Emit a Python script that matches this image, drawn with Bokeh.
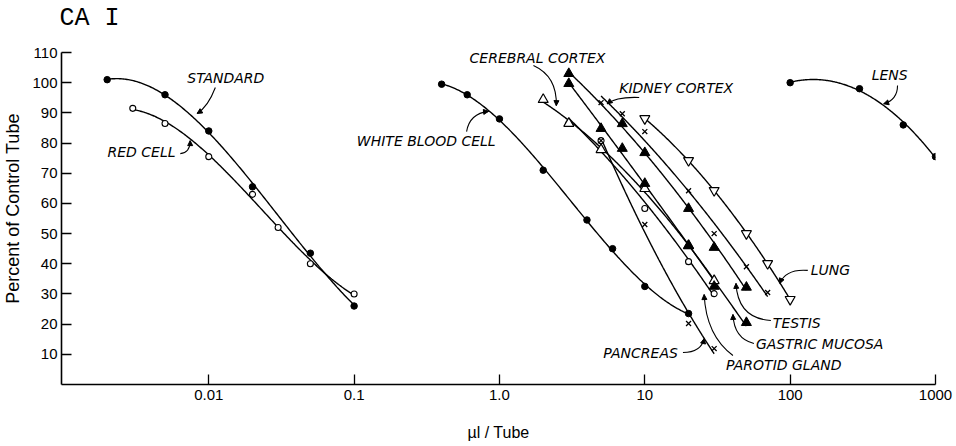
import numpy as np
from bokeh.plotting import figure
from bokeh.models import (Range1d, FixedTicker, CustomJSTickFormatter, ColumnDataSource,
                          Arrow, NormalHead)
from bokeh.core.properties import value
from bokeh.embed import file_html
from bokeh.resources import INLINE

# ---------------- data ----------------
std_x = [0.002, 0.005, 0.01, 0.02, 0.05, 0.1]
std_y = [101, 96, 84, 65.5, 43.5, 26]
red_x = [0.003, 0.005, 0.01, 0.02, 0.03, 0.05, 0.1]
red_y = [91.5, 86.5, 75.5, 63, 52, 40, 30]
wbc_x = [0.4, 0.6, 1, 2, 4, 6, 10, 20]
wbc_y = [99.5, 96, 88, 71, 54.5, 45, 32.5, 23.5]
cer_x = [2, 3, 5, 10, 20, 30]
cer_y = [94.4, 86.5, 77.8, 64.9, 46, 34.4]
par_x = [3, 5, 10, 20, 30]
par_y = [86.5, 80.8, 58.3, 40.7, 30.1]
pan_x = [5, 10, 20, 30]
pan_y = [80.8, 53, 20.2, 11.9]
kid_x = [5, 7, 10, 20, 30, 50, 70]
kid_y = [93.4, 89.7, 83.8, 64.2, 50, 39, 30.5]
tes_x = [3, 7, 10, 20, 30, 50]
tes_y = [103, 86.4, 76.8, 58.3, 45.4, 32.2]
gas_x = [3, 5, 7, 10, 20, 30, 50]
gas_y = [99.7, 84.8, 78.2, 66.6, 46, 32.5, 20.5]
lung_x = [10, 20, 30, 50, 70, 100]
lung_y = [88.1, 74.2, 64.3, 50, 40.1, 28.2]
lens_x = [100, 300, 600, 1000]
lens_y = [100, 98, 86, 75.5]

x_ticks = [0.01, 0.1, 1, 10, 100, 1000]
y_ticks = [10, 20, 30, 40, 50, 60, 70, 80, 90, 100, 110]

# curve labels and their leader lines (data coordinates)
label_text = ["STANDARD", "RED CELL", "WHITE BLOOD CELL", "CEREBRAL CORTEX", "KIDNEY CORTEX",
              "LENS", "LUNG", "TESTIS", "GASTRIC MUCOSA", "PAROTID GLAND", "PANCREAS"]
label_x = [0.00711, 0.00201, 0.1044, 0.623, 6.67, 363.7, 138.7, 76.0, 58.1, 36.2, 5.18]
label_y = [101.4, 76.9, 80.8, 108.3, 98.4, 102.4, 37.8, 20.5, 13.3, 6.3, 10.6]

lead_x0 = [0.0111, 0.00637, 0.594, 1.713, 9.15, 548, 132.2, 73.7, 56.3, 40.4, 18.3]
lead_y0 = [98.4, 76.5, 83.8, 105.7, 95.1, 99.1, 37.8, 21.2, 13.6, 9.6, 10.6]
lead_cx = [0.0099, 0.00745, 0.623, 2.50, 6.36, 548, 93.4, 43.7, 41.1, 26.4, 24.4]
lead_cy = [92.1, 76.9, 89.8, 102.1, 95.4, 94.4, 38.4, 21.9, 15.2, 16.2, 10.6]
lead_x1 = [0.00832, 0.00745, 0.841, 2.46, 5.51, 440, 84.9, 42.4, 40.4, 25.6, 25.6]
lead_y1 = [89.8, 80.8, 90.5, 92.4, 93.0, 93.0, 33.5, 33.5, 23.2, 29.8, 15.2]

# ---------------- figure ----------------
# the frame reaches a little above 110 so the panel title can sit where it does in the
# original; the y axis line itself is bounded to 0..110
Y_TOP = 352 * 110 / 332
p = figure(width=956, height=446, x_axis_type="log",
           x_range=Range1d(0.00097, 1000), y_range=Range1d(0, Y_TOP),
           output_backend="svg", toolbar_location=None, title="CA I",
           min_border_left=59, min_border_right=21, min_border_top=32, min_border_bottom=62)
p.outline_line_color = None
p.xgrid.grid_line_color = None
p.ygrid.grid_line_color = None
p.background_fill_color = "white"

p.title.text_font = "Liberation Mono"
p.title.text_font_size = "25px"
p.title.text_font_style = "normal"
p.title.text_color = "black"
p.title.align = "left"
p.title.offset = -2
p.title.standoff = 0

FONT = "Liberation Sans"
for ax in (p.xaxis[0], p.yaxis[0]):
    ax.axis_line_color = "black"
    ax.axis_line_width = 1.6
    ax.major_tick_line_color = "black"
    ax.major_tick_line_width = 1.3
    ax.major_tick_in = 10
    ax.major_tick_out = 0
    ax.minor_tick_line_color = None
    ax.major_label_text_font = FONT
    ax.major_label_text_font_size = "15px"
    ax.major_label_text_color = "black"
    ax.axis_label_text_font = FONT
    ax.axis_label_text_font_style = "normal"
    ax.axis_label_text_color = "black"

p.xaxis.ticker = FixedTicker(ticks=x_ticks)
p.xaxis.formatter = CustomJSTickFormatter(code="""
    if (Math.abs(tick - 1) < 1e-9) return "1.0";
    if (tick < 1) return String(parseFloat(tick.toPrecision(3)));
    return String(Math.round(tick));
""")
p.xaxis.major_label_standoff = 5
p.xaxis.axis_label = "\u00b5l / Tube"
p.xaxis.axis_label_text_font_size = "16px"
p.xaxis.axis_label_standoff = 21

p.yaxis.ticker = FixedTicker(ticks=y_ticks)
p.yaxis.bounds = (0, 110)
p.yaxis.major_label_standoff = 4
p.yaxis.axis_label = "Percent of Control Tube"
p.yaxis.axis_label_text_font_size = "18px"
p.yaxis.axis_label_standoff = 6

# ---------------- curves ----------------
def fit_curve(xs, ys, deg):
    lx = np.log10(np.asarray(xs, dtype=float))
    c = np.polyfit(lx, np.asarray(ys, dtype=float), deg)
    gx = np.linspace(lx.min(), lx.max(), 200)
    return 10 ** gx, np.polyval(c, gx)

series = [
    (std_x, std_y, 3), (red_x, red_y, 3), (wbc_x, wbc_y, 3),
    (cer_x, cer_y, 2), (par_x, par_y, 2), (pan_x, pan_y, 2),
    (kid_x, kid_y, 2), (tes_x, tes_y, 2), (gas_x, gas_y, 2),
    (lung_x, lung_y, 2), (lens_x, lens_y, 2),
]
for xs, ys, d in series:
    cx, cy = fit_curve(xs, ys, d)
    p.line(cx, cy, line_color="black", line_width=1.4)

# ---------------- markers ----------------
def filled_circles(xs, ys):
    p.scatter(xs, ys, marker="circle", size=6.5, fill_color="black", line_color="black")

def open_circles(xs, ys):
    p.scatter(xs, ys, marker="circle", size=6, fill_color="white", line_color="black", line_width=1.1)

filled_circles(std_x, std_y)
open_circles(red_x, red_y)
filled_circles(wbc_x, wbc_y)
filled_circles(lens_x, lens_y)
open_circles(par_x, par_y)
p.scatter(cer_x, cer_y, marker="triangle", size=10, fill_color="white", line_color="black", line_width=1.2)
p.scatter(tes_x, tes_y, marker="triangle", size=10, fill_color="black", line_color="black")
p.scatter(gas_x, gas_y, marker="triangle", size=10, fill_color="black", line_color="black")
p.scatter(lung_x, lung_y, marker="inverted_triangle", size=10, fill_color="white", line_color="black", line_width=1.2)
p.scatter(kid_x, kid_y, marker="x", size=7, line_color="black", line_width=1.3)
p.scatter(pan_x, pan_y, marker="x", size=7, line_color="black", line_width=1.3)

# ---------------- labels with leader lines ----------------
lab_src = ColumnDataSource(dict(x=label_x, y=label_y, t=label_text))
p.text(x="x", y="y", text="t", source=lab_src, text_font=value("DejaVu Sans"),
       text_font_style="italic", text_font_size="14px", text_align="left",
       text_baseline="middle", text_color="black")

lead_src = ColumnDataSource(dict(x0=lead_x0, y0=lead_y0, cx=lead_cx, cy=lead_cy,
                                 x1=lead_x1, y1=lead_y1))
p.quadratic(x0="x0", y0="y0", x1="x1", y1="y1", cx="cx", cy="cy", source=lead_src,
            line_color="black", line_width=1.1)
p.add_layout(Arrow(end=NormalHead(size=5, fill_color="black", line_color="black", line_width=1),
                   source=lead_src, x_start="cx", y_start="cy", x_end="x1", y_end="y1",
                   line_alpha=0))

open("out.html", "w").write(file_html(p, INLINE))
